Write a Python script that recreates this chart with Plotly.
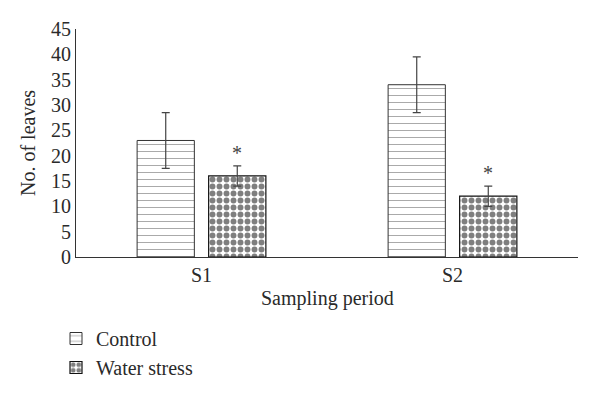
import plotly.graph_objects as go

categories = ["S1", "S2"]
control = [23, 34]
control_err = [5.5, 5.5]
water = [16, 12]
water_err = [2, 2]
y_ticks = [0, 5, 10, 15, 20, 25, 30, 35, 40, 45]

FONT = "Liberation Serif"
TXT = "#2a2a2a"
FS = 20
W, H = 592, 386  # page body has an 8px margin

fig = go.Figure()
fig.add_trace(go.Bar(
    x=categories, y=control, name="Control", offsetgroup="0",
    marker=dict(color="white", line=dict(color="#333", width=1),
                pattern=dict(shape="-", fgcolor="#555", bgcolor="white", size=7, solidity=0.15)),
    error_y=dict(type="data", array=control_err, color="#444", thickness=1.2, width=4),
))
fig.add_trace(go.Bar(
    x=categories, y=water, name="Water stress", offsetgroup="1",
    marker=dict(color="white", line=dict(color="#111", width=1.2),
                pattern=dict(shape=".", fgcolor="black", bgcolor="white", size=7, solidity=0.55)),
))
# error bars for water stress, drawn over the patterned bar
fig.add_trace(go.Bar(
    x=categories, y=water, showlegend=False, hoverinfo="skip", offsetgroup="1",
    marker=dict(color="rgba(0,0,0,0)", line=dict(width=0)),
    error_y=dict(type="data", array=water_err, arrayminus=water_err, color="#444", thickness=1.2, width=4),
))

for c, v, e in zip(categories, water, water_err):
    fig.add_annotation(x=c, y=v + e, xref="x", yref="y", text="*", showarrow=False,
                       xshift=35.75, yanchor="bottom", yshift=0,
                       font=dict(family=FONT, size=20, color="#444"))

# axis titles
fig.add_annotation(text="Sampling period", xref="paper", yref="paper", x=0.5, y=-0.18,
                   xanchor="center", yanchor="middle", showarrow=False,
                   font=dict(family=FONT, size=FS, color=TXT))
fig.add_annotation(text="No. of leaves", xref="paper", yref="paper", x=-0.0956, y=0.5,
                   xanchor="center", yanchor="middle", textangle=-90, showarrow=False,
                   font=dict(family=FONT, size=FS, color=TXT))

fig.update_layout(
    width=W, height=H,
    margin=dict(l=68, r=22, t=21, b=137, autoexpand=False),
    paper_bgcolor="white", plot_bgcolor="white",
    barmode="group", bargap=0.43, bargroupgap=0.2,
    font=dict(family=FONT, size=FS, color=TXT),
    showlegend=True,
    legend=dict(x=48 / W, xref="container", xanchor="left",
                y=1 - 311 / H, yref="container", yanchor="top", orientation="v",
                font=dict(family=FONT, size=FS, color=TXT), itemwidth=30,
                tracegroupgap=0, bgcolor="rgba(0,0,0,0)"),
    xaxis=dict(automargin=False,
               showline=True, linecolor="#333", linewidth=1, ticks="", showgrid=False,
               tickfont=dict(size=FS)),
    yaxis=dict(automargin=False,
               range=[0, 45], tickvals=y_ticks, showline=True, linecolor="#333", linewidth=1,
               ticks="", showgrid=False, zeroline=False, tickfont=dict(size=FS)),
)

fig.write_html("out.html")
